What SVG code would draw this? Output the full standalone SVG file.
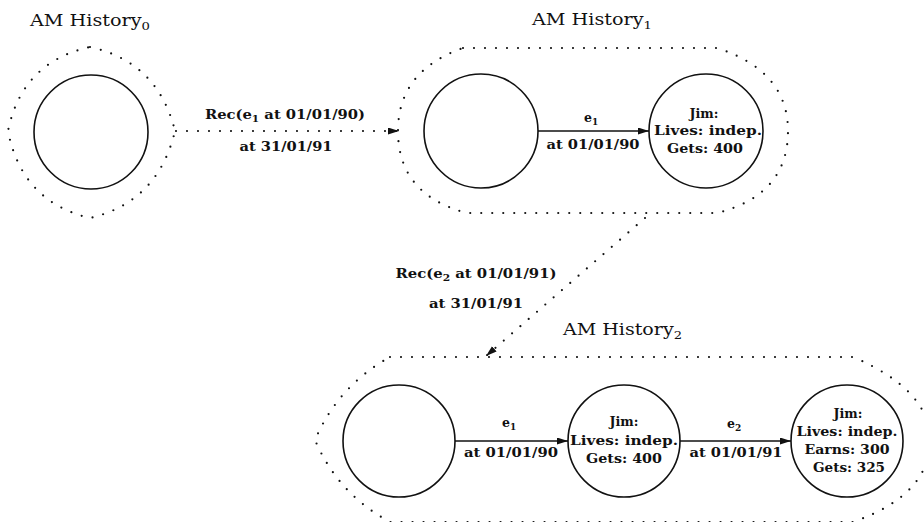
<svg xmlns="http://www.w3.org/2000/svg" width="924" height="522" viewBox="0 0 924 522">
<style>
.bg{fill:#fff}
.hull{fill:none;stroke:#111;stroke-width:2.2;stroke-linecap:round;stroke-dasharray:0 11}
.node{fill:none;stroke:#111;stroke-width:1.6}
.edge{fill:none;stroke:#111;stroke-width:1.6}
.dot{fill:none;stroke:#111;stroke-width:2.2;stroke-linecap:round;stroke-dasharray:0 11}
.title{font-family:"DejaVu Serif","Liberation Serif",serif;font-size:16px;fill:#111}
.tsub{font-size:11px}
.lbl{font-family:"DejaVu Serif","Liberation Serif",serif;font-size:12.5px;font-weight:bold;fill:#111}
.sub{font-size:9px}
</style>
<defs>
<marker id="arr" markerUnits="userSpaceOnUse" markerWidth="12" markerHeight="8" refX="11" refY="3.5" orient="auto">
<path d="M0,0 L11,3.5 L0,7 Z" fill="#111"/>
</marker>
</defs>
<rect class="bg" x="0" y="0" width="924" height="522"/>

<g id="history0">
<text class="title" x="30" y="26" textLength="120" lengthAdjust="spacingAndGlyphs">AM History<tspan class="tsub" dy="4">0</tspan></text>
<path class="hull" d="M90,47 Q158,62 175,131 Q158,202 90,218 Q22,202 8,131 Q22,62 90,47 Z"/>
<g id="h0_s0"><circle class="node" cx="91" cy="132" r="57"/></g>
</g>

<g id="history1">
<text class="title" x="532" y="25" textLength="120" lengthAdjust="spacingAndGlyphs">AM History<tspan class="tsub" dy="4">1</tspan></text>
<path class="hull" d="M463,48 L717,48 Q788,71 788,131 Q788,195 717,213 L467,213 Q398,195 398,131 Q398,71 463,48 Z"/>
<g id="h1_s0"><circle class="node" cx="481" cy="131" r="57"/></g>
<g id="h1_s1"><circle class="node" cx="706" cy="131" r="57"/>
<text class="lbl" text-anchor="middle" x="704" y="118" textLength="29" lengthAdjust="spacingAndGlyphs">Jim:</text>
<text class="lbl" text-anchor="middle" x="708" y="135" textLength="108" lengthAdjust="spacingAndGlyphs">Lives: indep.</text>
<text class="lbl" text-anchor="middle" x="705" y="153" textLength="76" lengthAdjust="spacingAndGlyphs">Gets: 400</text>
</g>
</g>

<g id="history2">
<text class="title" x="563" y="335" textLength="119" lengthAdjust="spacingAndGlyphs">AM History<tspan class="tsub" dy="4">2</tspan></text>
<path class="hull" d="M390,357 L853,357 Q930,390 930,440 Q930,495 853,522 L390,522 Q338,494 315,440 Q338,386 390,357 Z"/>
<g id="h2_s0"><circle class="node" cx="399" cy="441" r="56"/></g>
<g id="h2_s1"><circle class="node" cx="624" cy="441" r="56"/>
<text class="lbl" text-anchor="middle" x="624" y="426" textLength="29" lengthAdjust="spacingAndGlyphs">Jim:</text>
<text class="lbl" text-anchor="middle" x="624" y="445" textLength="108" lengthAdjust="spacingAndGlyphs">Lives: indep.</text>
<text class="lbl" text-anchor="middle" x="624" y="463" textLength="76" lengthAdjust="spacingAndGlyphs">Gets: 400</text>
</g>
<g id="h2_s2"><circle class="node" cx="847" cy="441" r="56"/>
<text class="lbl" text-anchor="middle" x="848" y="418" textLength="29" lengthAdjust="spacingAndGlyphs">Jim:</text>
<text class="lbl" text-anchor="middle" x="847" y="436" textLength="101" lengthAdjust="spacingAndGlyphs">Lives: indep.</text>
<text class="lbl" text-anchor="middle" x="847" y="454" textLength="85" lengthAdjust="spacingAndGlyphs">Earns: 300</text>
<text class="lbl" text-anchor="middle" x="849" y="472" textLength="72" lengthAdjust="spacingAndGlyphs">Gets: 325</text>
</g>
</g>

<g id="connectors">
<line class="dot" x1="176" y1="131" x2="399" y2="131" marker-end="url(#arr)"/>
<text class="lbl" text-anchor="middle" x="285" y="119" textLength="160" lengthAdjust="spacingAndGlyphs">Rec(e<tspan class="sub" dy="3">1</tspan><tspan dy="-3"> at 01/01/90)</tspan></text>
<text class="lbl" text-anchor="middle" x="286" y="151" textLength="93" lengthAdjust="spacingAndGlyphs">at 31/01/91</text>

<line class="dot" x1="645" y1="218" x2="486" y2="356" marker-end="url(#arr)"/>
<text class="lbl" text-anchor="middle" x="476" y="278" textLength="161" lengthAdjust="spacingAndGlyphs">Rec(e<tspan class="sub" dy="3">2</tspan><tspan dy="-3"> at 01/01/91)</tspan></text>
<text class="lbl" text-anchor="middle" x="476" y="308" textLength="94" lengthAdjust="spacingAndGlyphs">at 31/01/91</text>

<line class="edge" x1="538" y1="131" x2="649" y2="131" marker-end="url(#arr)"/>
<text class="lbl" x="584" y="122">e<tspan class="sub" dy="3">1</tspan></text>
<text class="lbl" text-anchor="middle" x="593" y="149" textLength="93" lengthAdjust="spacingAndGlyphs">at 01/01/90</text>

<line class="edge" x1="455" y1="441" x2="568" y2="441" marker-end="url(#arr)"/>
<text class="lbl" x="502" y="427">e<tspan class="sub" dy="3">1</tspan></text>
<text class="lbl" text-anchor="middle" x="511" y="457" textLength="94" lengthAdjust="spacingAndGlyphs">at 01/01/90</text>

<line class="edge" x1="680" y1="441" x2="791" y2="441" marker-end="url(#arr)"/>
<text class="lbl" x="727" y="428">e<tspan class="sub" dy="3">2</tspan></text>
<text class="lbl" text-anchor="middle" x="736" y="457" textLength="93" lengthAdjust="spacingAndGlyphs">at 01/01/91</text>
</g>
</svg>
